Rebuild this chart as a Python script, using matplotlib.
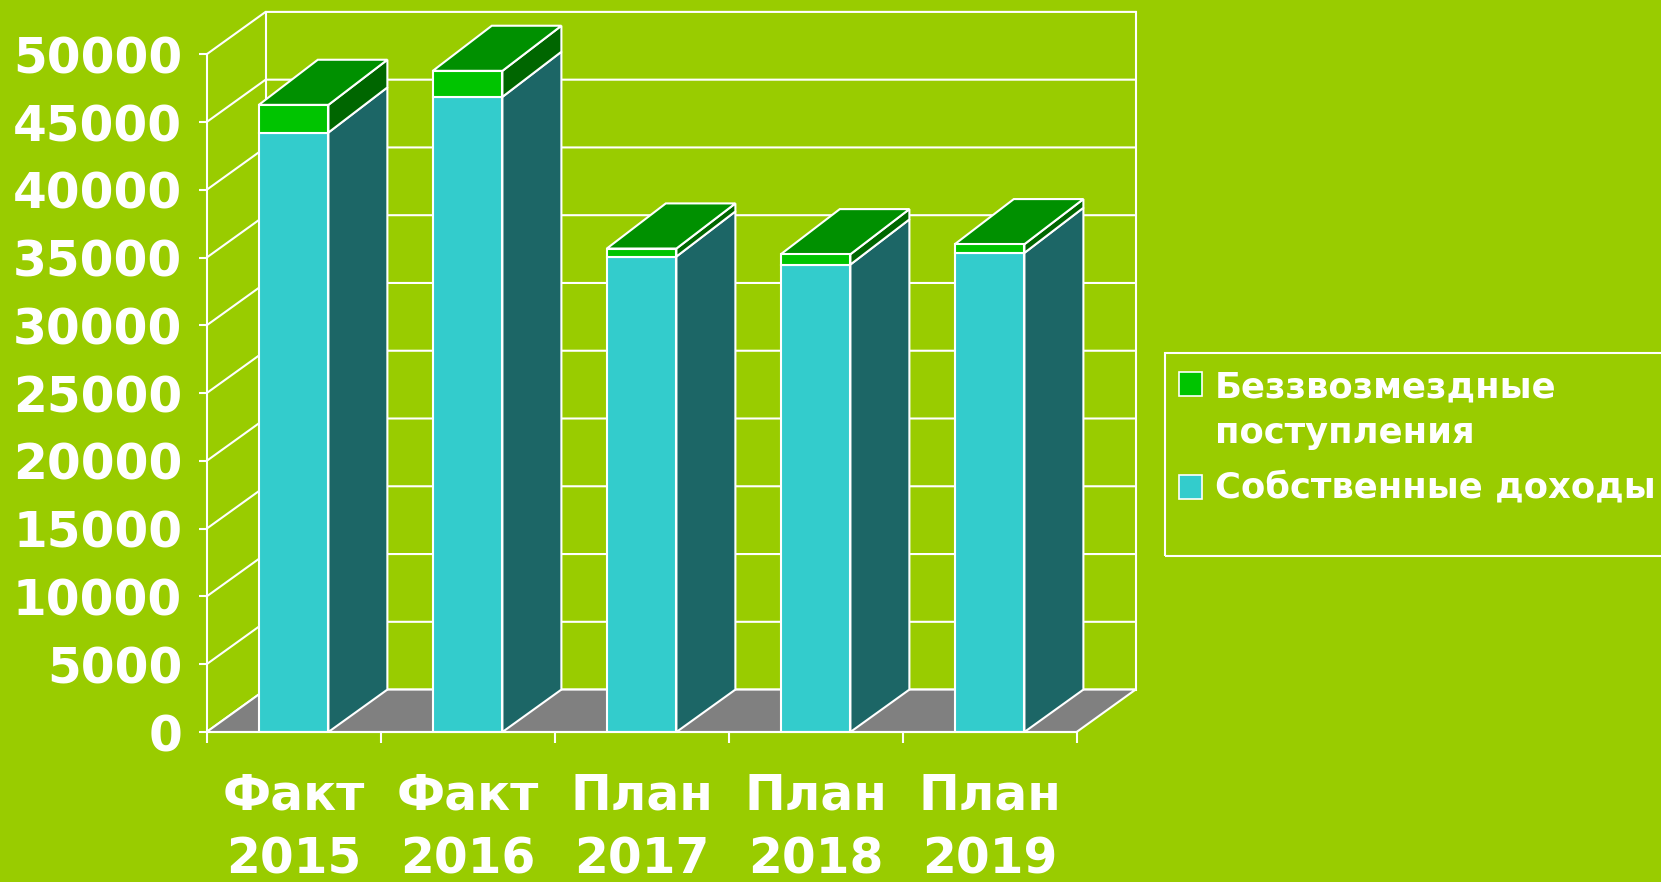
"""
Pseudo-3D stacked bar chart: budget revenues (own income + grants), 2015-2019.
"""

import matplotlib

matplotlib.use("Agg")
import matplotlib.pyplot as plt
import numpy as np
from matplotlib.patches import Polygon, Rectangle


categories = ["Факт\n2015", "Факт\n2016", "План\n2017", "План\n2018", "План\n2019"]
own_income = [44230, 46860, 35080, 34490, 35350]
grants = [2040, 1920, 590, 760, 640]
series_names = ["Беззвозмездные\nпоступления", "Собственные доходы"]
y_ticks = list(range(0, 50001, 5000))

BG = "#99CC00"
TEAL = "#33CCCC"
TEAL_SIDE = "#1C6666"
GREEN = "#00C400"
GREEN_TOP = "#009000"
GREEN_SIDE = "#006600"
FLOOR = "#808080"
LW = 1.5

W, H = 1661, 882
BAR_W = 0.4
DX = 0.339      # depth offset, category units
DY = 3130       # depth offset, value units
TOP_LIFT = 200  # bar tops rise a bit more than the floor
Y_MAX = 50000


def fig_xy(px, py):
    return px / W, 1 - py / H


def face(ax, pts, color, z):
    ax.add_patch(Polygon(pts, closed=True, facecolor=color, edgecolor="white",
                         linewidth=LW, joinstyle="miter", zorder=z, clip_on=False))


def back(v):
    return v + DY + (TOP_LIFT if v > 0 else 0)


fig = plt.figure(figsize=(W / 100, H / 100), dpi=100, facecolor=BG)
ax = fig.add_axes([206.6 / W, 150 / H, 929 / W, 720.1 / H])
ax.set_facecolor("none")
n = len(categories)
ax.set_xlim(0, n + DX)
ax.set_ylim(0, Y_MAX + DY)

# walls and floor
for v in y_ticks:
    ax.plot([0, DX, n + DX], [v, v + DY, v + DY], color="white", lw=LW, zorder=1,
            clip_on=False, solid_joinstyle="miter")
for xb in (DX, n + DX):
    ax.plot([xb, xb], [DY, Y_MAX + DY], color="white", lw=LW, zorder=1, clip_on=False)
face(ax, [(0, 0), (n, 0), (n + DX, DY), (DX, DY)], FLOOR, 1.5)

# bars
x = np.arange(n) + 0.5
totals = [o + g for o, g in zip(own_income, grants)]
for xc, own, total in zip(x, own_income, totals):
    x0, x1 = xc - BAR_W / 2, xc + BAR_W / 2
    face(ax, [(x1, 0), (x1 + DX, back(0)), (x1 + DX, back(own)), (x1, own)], TEAL_SIDE, 3)
    face(ax, [(x1, own), (x1 + DX, back(own)), (x1 + DX, back(total)), (x1, total)], GREEN_SIDE, 3)
    face(ax, [(x0, total), (x1, total), (x1 + DX, back(total)), (x0 + DX, back(total))],
         GREEN_TOP, 3)
ax.bar(x, own_income, width=BAR_W, color=TEAL, edgecolor="white", linewidth=LW, zorder=4)
ax.bar(x, grants, bottom=own_income, width=BAR_W, color=GREEN, edgecolor="white",
       linewidth=LW, zorder=4)

# axes
for side in ("top", "right"):
    ax.spines[side].set_visible(False)
ax.spines["left"].set_bounds(0, Y_MAX)
ax.spines["bottom"].set_bounds(0, n)
for side in ("left", "bottom"):
    ax.spines[side].set_color("white")
    ax.spines[side].set_linewidth(LW)
    ax.spines[side].set_zorder(5)

ax.set_yticks(y_ticks)
ax.set_yticklabels([str(v) for v in y_ticks], fontsize=35, fontweight="bold",
                   family="DejaVu Sans", color="white")
ax.tick_params(axis="y", direction="out", length=6, width=LW, color="white", pad=11.5)

ax.set_xticks(range(n + 1))
ax.set_xticklabels([])
ax.tick_params(axis="x", which="major", direction="out", length=7.6, width=LW, color="white")
ax.set_xticks(x, minor=True)
ax.set_xticklabels(categories, minor=True, fontsize=35, fontweight="bold", family="DejaVu Sans",
                   color="white", linespacing=1.42)
ax.tick_params(axis="x", which="minor", length=0, pad=28.5)

# legend
fig.patches.append(Rectangle(fig_xy(1165, 556), 0.4, 203.2 / H, transform=fig.transFigure,
                             facecolor="none", edgecolor="white", linewidth=LW))
for name, color, sq_top, base in zip(series_names, [GREEN, TEAL], [372, 475], [443, 497]):
    fig.patches.append(Rectangle(fig_xy(1179, sq_top + 24), 23 / W, 24 / H,
                                 transform=fig.transFigure, facecolor=color,
                                 edgecolor="white", linewidth=1.2))
    fig.text(*fig_xy(1215, base), name, fontsize=25.5, fontweight="bold", family="DejaVu Sans",
             color="white", va="baseline", ha="left", linespacing=1.43)

fig.savefig("out.png", dpi=100, facecolor=BG)
